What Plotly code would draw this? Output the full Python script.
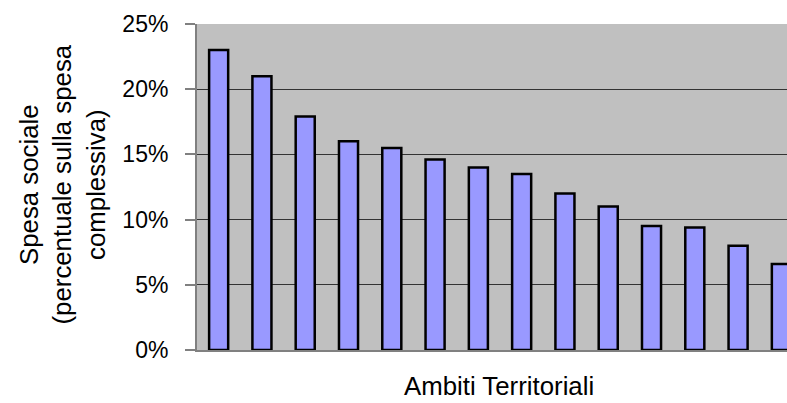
import plotly.graph_objects as go

categories = [f"Ambito {i}" for i in range(1, 15)]
values = [0.230, 0.210, 0.179, 0.160, 0.155, 0.146, 0.140, 0.135, 0.120, 0.110, 0.095, 0.094, 0.080, 0.066]
tick_vals = [0, 0.05, 0.10, 0.15, 0.20, 0.25]
tick_text = ["0%", "5%", "10%", "15%", "20%", "25%"]

W, H = 787, 403
L, R, T, B = 197, 0, 24, 53
pw, ph = W - L - R, H - T - B

fig = go.Figure()
fig.add_trace(go.Bar(
    x=categories, y=values, width=0.44,
    marker=dict(color="#9999ff", line=dict(color="#000000", width=2.5)),
))

font = "Liberation Sans, Arial, sans-serif"
fig.update_layout(
    width=W, height=H,
    margin=dict(l=L, r=R, t=T, b=B, autoexpand=False),
    paper_bgcolor="white", plot_bgcolor="#c0c0c0",
    showlegend=False, bargap=0.56,
    font=dict(family=font, color="black", size=23),
    xaxis=dict(type="category", range=[-0.5, 13.13], showticklabels=False, ticks="",
               showgrid=False, showline=True, linecolor="#808080", linewidth=2, zeroline=False),
    yaxis=dict(range=[0, 0.25], tickvals=tick_vals, ticktext=tick_text, ticks="outside",
               ticklen=10, tickcolor="#808080", tickwidth=1.5, showgrid=True, gridcolor="#333333",
               gridwidth=1, showline=True, linecolor="#808080", linewidth=2, mirror=True,
               zeroline=False, ticklabelstandoff=12, tickfont=dict(size=23)),
    annotations=[
        dict(text="Spesa sociale<br>(percentuale sulla spesa<br>complessiva)", textangle=-90,
             xref="paper", yref="paper", x=(62 - L) / pw, y=(350 - 184.5) / ph,
             xanchor="center", yanchor="middle", showarrow=False, font=dict(size=25.8)),
        dict(text="Ambiti Territoriali", xref="paper", yref="paper",
             x=(498.5 - L) / pw, y=(350 - 386.5) / ph, xanchor="center", yanchor="middle",
             showarrow=False, borderpad=0, font=dict(size=25.8)),
    ],
)

fig.write_html("out.html", config={"displayModeBar": False},
               post_script="document.body.style.margin='0';document.body.style.overflow='hidden';")
